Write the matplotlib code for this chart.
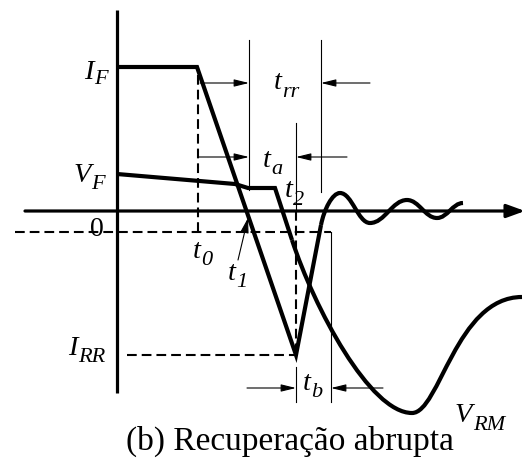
import matplotlib
matplotlib.use('Agg')
import matplotlib.pyplot as plt
from matplotlib.path import Path
from matplotlib.patches import PathPatch

matplotlib.rcParams['lines.scale_dashes'] = False

# diode current: forward level, linear fall to the reverse peak, snap back
I_F = 144
I_RR = -144
i_t = [0, 80, 179, 204]
i_val = [I_F, I_F, I_RR, -14]
# ringing extrema after the snap back
ring_t = [223, 253, 290, 320, 346]
ring_val = [18, -12, 11, -7, 8]

# diode voltage: forward drop, flat step, fall, reverse overshoot V_RM
v_t = [0, 118, 131, 158, 175]
v_val = [37, 27, 23, 23, -29]
v_min = (295, -202)
v_end = (405, -86)

# time marks
t0, t1, t2 = 81, 131, 179
t_rr_start, t_rr_end = 132, 204
t_b_end = 214
zero_ref = -21

thick = 3.0
axis_lw = 2.3
thin = 0.8
dash_lw = 1.5
dash = (0, (7.0, 3.6))
serif = 'Liberation Serif'


def smooth_path(start, start_dir, pts, k=0.4):
    # cubic segments with flat tangents at every extremum
    verts = [start]
    codes = [Path.MOVETO]
    x0, y0 = start
    for n, (x1, y1) in enumerate(pts):
        if n == 0:
            c1 = (x0 + start_dir[0], y0 + start_dir[1])
        else:
            c1 = (x0 + k * (x1 - x0), y0)
        c2 = (x1 - k * (x1 - x0), y1)
        verts += [c1, c2, (x1, y1)]
        codes += [Path.CURVE4] * 3
        x0, y0 = x1, y1
    return Path(verts, codes)


def arrow(ax, tail, head, lw=thin, style='-|>,head_length=0.9,head_width=0.22', ms=10):
    ax.annotate('', xy=head, xytext=tail,
                arrowprops=dict(arrowstyle=style, color='black', lw=lw,
                                shrinkA=0, shrinkB=0, mutation_scale=ms))


def sub_label(ax, x, y, base, sub, ha='left', size=20.5, sub_size=16, drop=5, gap=0.5):
    # italic symbol with a large italic subscript; one data unit is one pixel here
    r = ax.figure.canvas.get_renderer()
    tb = ax.text(0, 0, base, fontsize=size, family=serif, style='italic', va='baseline')
    ts = ax.text(0, 0, sub, fontsize=sub_size, family=serif, style='italic', va='baseline')
    wb = tb.get_window_extent(r).width
    ws = ts.get_window_extent(r).width
    x0 = x - (wb + gap + ws) if ha == 'right' else x
    tb.set_position((x0, y))
    ts.set_position((x0 + wb + gap, y - drop))


fig = plt.figure(figsize=(5.26, 4.61), dpi=100)
ax = fig.add_axes([0, 0, 1, 1])
ax.set_xlim(-117, 409)
ax.set_ylim(-250, 211)
ax.axis('off')

# axes
ax.plot([0, 0], [-182, 201], color='black', lw=axis_lw, solid_capstyle='butt')
arrow(ax, (-92, 0), (408, 0), lw=axis_lw, style='-|>,head_length=1.1,head_width=0.4', ms=10)

# dashed references
ax.plot([-102, t_b_end], [zero_ref, zero_ref], color='black', lw=dash_lw, linestyle=dash)
ax.plot([t0, t0], [136, -24], color='black', lw=dash_lw, linestyle=dash)
ax.plot([10, t2], [I_RR, I_RR], color='black', lw=dash_lw, linestyle=dash)
ax.plot([t2, t2], [0, I_RR], color='black', lw=dash_lw, linestyle=dash)

# thin marker lines
ax.plot([t_rr_start, t_rr_start], [171, 21], color='black', lw=thin)
ax.plot([t_rr_end, t_rr_end], [171, 19], color='black', lw=thin)
ax.plot([t2, t2], [88, 0], color='black', lw=thin)
ax.plot([t2, t2], [-156, -191], color='black', lw=thin)
ax.plot([t_b_end, t_b_end], [zero_ref, -191], color='black', lw=thin)

# dimension arrows
arrow(ax, (t0 + 2, 128), (t_rr_start, 128))
arrow(ax, (253, 128), (t_rr_end, 128))
arrow(ax, (t0, 54), (t_rr_start, 54))
arrow(ax, (230, 54), (t2, 54))
arrow(ax, (130, -177), (t2, -177))
arrow(ax, (266, -177), (t_b_end, -177))
arrow(ax, (121, -49), (t1, -7), style='-|>,head_length=0.9,head_width=0.25')

# current waveform
ax.plot(i_t, i_val, color='black', lw=thick, solid_joinstyle='miter', solid_capstyle='butt')
rise = (0.12 * (i_t[3] - i_t[2]), 0.12 * (i_val[3] - i_val[2]))
ring = smooth_path((i_t[3], i_val[3]), rise, list(zip(ring_t, ring_val)))
ax.add_patch(PathPatch(ring, fill=False, lw=thick, edgecolor='black', capstyle='butt'))

# voltage waveform
ax.plot(v_t, v_val, color='black', lw=thick, solid_joinstyle='miter', solid_capstyle='butt')
fall = (1.3 * (v_t[4] - v_t[3]), 1.3 * (v_val[4] - v_val[3]))
vx0, vy0 = v_t[4], v_val[4]
verts = [(vx0, vy0),
         (vx0 + fall[0], vy0 + fall[1]),
         (v_min[0] - 0.35 * (v_min[0] - vx0), v_min[1]),
         v_min,
         (v_min[0] + 0.25 * (v_end[0] - v_min[0]), v_min[1]),
         (v_end[0] - 0.6 * (v_end[0] - v_min[0]), v_end[1]),
         v_end]
codes = [Path.MOVETO] + [Path.CURVE4] * 6
ax.add_patch(PathPatch(Path(verts, codes), fill=False, lw=thick, edgecolor='black', capstyle='butt'))

# labels
sub_label(ax, -9, 132, 'I', 'F', ha='right')
sub_label(ax, -12, 29, 'V', 'F', ha='right', drop=7)
ax.text(-20, -18, '0', ha='center', va='center', fontsize=20, family=serif)
sub_label(ax, -12, -144, 'I', 'RR', ha='right', drop=7)
sub_label(ax, 76, -47, 't', '0', drop=7)
sub_label(ax, 111, -69, 't', '1', drop=7)
sub_label(ax, 157, 122, 't', 'rr', drop=8)
sub_label(ax, 146, 44, 't', 'a', drop=7)
sub_label(ax, 168, 14, 't', '2', drop=8)
sub_label(ax, 186, -179, 't', 'b', drop=7)
sub_label(ax, 338, -211, 'V', 'RM', drop=8)

ax.text(173, -239, '(b) Recuperação abrupta', ha='center', va='baseline',
        fontsize=24, family=serif)

fig.savefig('out.png', dpi=100)
